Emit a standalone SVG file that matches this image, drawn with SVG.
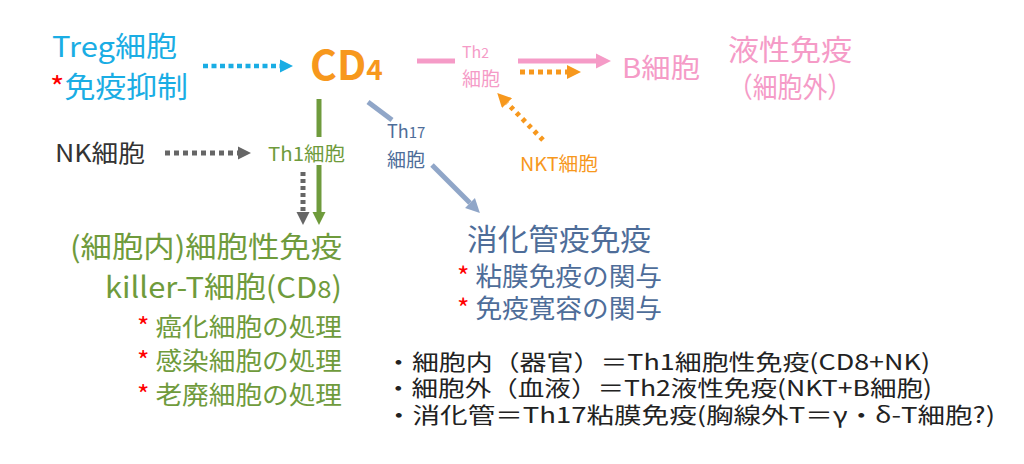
<svg xmlns="http://www.w3.org/2000/svg" width="1024" height="464" viewBox="0 0 1024 464">
<style>
text{font-family:"Noto Sans CJK JP","Noto Sans",sans-serif}
.cy{fill:#1AADE4}.or{fill:#F7981D}.pk{fill:#F59BC7}.gr{fill:#6F9B3C}.bl{fill:#4E6D99}.dk{fill:#333}.rd{fill:#FF0000}.bk{fill:#222}
.c line{fill:none}
</style>
<defs>
<marker id="mCy" viewBox="0 0 10 10" refX="0" refY="5" markerUnits="userSpaceOnUse" markerWidth="13" markerHeight="16" orient="auto"><path d="M0,0L10,5L0,10z" fill="#1AADE4"/></marker>
<marker id="mPk" viewBox="0 0 10 10" refX="0" refY="5" markerUnits="userSpaceOnUse" markerWidth="15" markerHeight="16" orient="auto"><path d="M0,0L10,5L0,10z" fill="#F59BC7"/></marker>
<marker id="mOr" viewBox="0 0 10 10" refX="0" refY="5" markerUnits="userSpaceOnUse" markerWidth="15" markerHeight="14" orient="auto"><path d="M0,0L10,5L0,10z" fill="#F7981D"/></marker>
<marker id="mGr" viewBox="0 0 10 10" refX="0" refY="5" markerUnits="userSpaceOnUse" markerWidth="13" markerHeight="14" orient="auto"><path d="M0,0L10,5L0,10z" fill="#6F9B3C"/></marker>
<marker id="mGy" viewBox="0 0 10 10" refX="0" refY="5" markerUnits="userSpaceOnUse" markerWidth="13" markerHeight="14" orient="auto"><path d="M0,0L10,5L0,10z" fill="#666"/></marker>
<marker id="mBl" viewBox="0 0 10 10" refX="0" refY="5" markerUnits="userSpaceOnUse" markerWidth="14" markerHeight="16" orient="auto"><path d="M0,0L10,5L0,10z" fill="#90A6C8"/></marker>
</defs>
<rect width="1024" height="464" fill="#fff"/>

<g id="connectors" class="c">
<line x1="203" y1="66" x2="280" y2="66" stroke="#1AADE4" stroke-width="4.5" stroke-dasharray="5 3.5" marker-end="url(#mCy)"/>
<line x1="417" y1="61" x2="455" y2="61" stroke="#F59BC7" stroke-width="5"/>
<line x1="518" y1="61" x2="596" y2="61" stroke="#F59BC7" stroke-width="5" marker-end="url(#mPk)"/>
<line x1="520" y1="72" x2="567" y2="72" stroke="#F7981D" stroke-width="5" stroke-dasharray="5 4" marker-end="url(#mOr)"/>
<line x1="543" y1="140" x2="507" y2="103" stroke="#F7981D" stroke-width="5" stroke-dasharray="4 4.5" marker-end="url(#mOr)"/>
<line x1="319" y1="99" x2="319" y2="137" stroke="#6F9B3C" stroke-width="5"/>
<line x1="319" y1="165" x2="319" y2="212" stroke="#6F9B3C" stroke-width="5" marker-end="url(#mGr)"/>
<line x1="303" y1="172" x2="303" y2="212" stroke="#666" stroke-width="5" stroke-dasharray="4 3" marker-end="url(#mGy)"/>
<line x1="165" y1="153" x2="238" y2="153" stroke="#666" stroke-width="5" stroke-dasharray="5 4" marker-end="url(#mGy)"/>
<line x1="368" y1="102" x2="392" y2="120" stroke="#90A6C8" stroke-width="5"/>
<line x1="432" y1="165" x2="470" y2="203" stroke="#90A6C8" stroke-width="5" marker-end="url(#mBl)"/>
</g>

<g id="treg">
<text class="cy" x="52" y="57" font-size="28" textLength="125" lengthAdjust="spacingAndGlyphs">Treg細胞</text>
<text x="50" y="98" font-size="29" textLength="138" lengthAdjust="spacingAndGlyphs"><tspan class="rd">*</tspan><tspan class="cy">免疫抑制</tspan></text>
</g>
<g id="cd4">
<text class="or" x="310" y="80" font-size="41" font-weight="bold">CD<tspan font-size="28">4</tspan></text>
</g>
<g id="th2">
<text class="pk" x="462" y="58" font-size="16">Th<tspan font-size="14">2</tspan></text>
<text class="pk" x="462" y="86" font-size="19">細胞</text>
</g>
<g id="bcell">
<text class="pk" x="622" y="78" font-size="27" textLength="78" lengthAdjust="spacingAndGlyphs">B細胞</text>
</g>
<g id="humoral">
<text class="pk" x="728" y="61" font-size="29" textLength="124" lengthAdjust="spacingAndGlyphs">液性免疫</text>
<text class="pk" x="728" y="98" font-size="28" textLength="124" lengthAdjust="spacingAndGlyphs">（細胞外）</text>
</g>
<g id="nk">
<text class="dk" x="55" y="162" font-size="24" textLength="90" lengthAdjust="spacingAndGlyphs">NK細胞</text>
</g>
<g id="th1">
<text class="gr" x="268" y="161" font-size="19" textLength="77" lengthAdjust="spacingAndGlyphs">Th1細胞</text>
</g>
<g id="th17">
<text class="bl" x="387" y="138" font-size="18">Th<tspan font-size="15">17</tspan></text>
<text class="bl" x="387" y="167" font-size="19">細胞</text>
</g>
<g id="nkt">
<text class="or" x="520" y="171" font-size="19" textLength="78" lengthAdjust="spacingAndGlyphs">NKT細胞</text>
</g>
<g id="cellular">
<text class="gr" x="70" y="258" font-size="29" textLength="272" lengthAdjust="spacingAndGlyphs">(細胞内)細胞性免疫</text>
<text class="gr" x="105" y="298" font-size="29" textLength="237" lengthAdjust="spacingAndGlyphs">killer-T細胞(CD<tspan font-size="24">8</tspan>)</text>
<text x="137" y="336" font-size="25" textLength="205" lengthAdjust="spacingAndGlyphs"><tspan class="rd">* </tspan><tspan class="gr">癌化細胞の処理</tspan></text>
<text x="137" y="370" font-size="25" textLength="205" lengthAdjust="spacingAndGlyphs"><tspan class="rd">* </tspan><tspan class="gr">感染細胞の処理</tspan></text>
<text x="137" y="404" font-size="25" textLength="205" lengthAdjust="spacingAndGlyphs"><tspan class="rd">* </tspan><tspan class="gr">老廃細胞の処理</tspan></text>
</g>
<g id="gut">
<text class="bl" x="467" y="250" font-size="30" textLength="184" lengthAdjust="spacingAndGlyphs">消化管疫免疫</text>
<text x="457" y="286" font-size="26" textLength="205" lengthAdjust="spacingAndGlyphs"><tspan class="rd">* </tspan><tspan class="bl">粘膜免疫の関与</tspan></text>
<text x="457" y="318" font-size="26" textLength="205" lengthAdjust="spacingAndGlyphs"><tspan class="rd">* </tspan><tspan class="bl">免疫寛容の関与</tspan></text>
</g>
<g id="notes">
<text class="bk" x="385" y="370" font-size="22" textLength="545" lengthAdjust="spacingAndGlyphs">・細胞内（器官）＝Th1細胞性免疫(CD8+NK)</text>
<text class="bk" x="385" y="396" font-size="22" textLength="547" lengthAdjust="spacingAndGlyphs">・細胞外（血液）＝Th2液性免疫(NKT+B細胞)</text>
<text class="bk" x="385" y="423" font-size="22" textLength="610" lengthAdjust="spacingAndGlyphs">・消化管＝Th17粘膜免疫(胸線外T＝γ・δ-T細胞?)</text>
</g>
</svg>
